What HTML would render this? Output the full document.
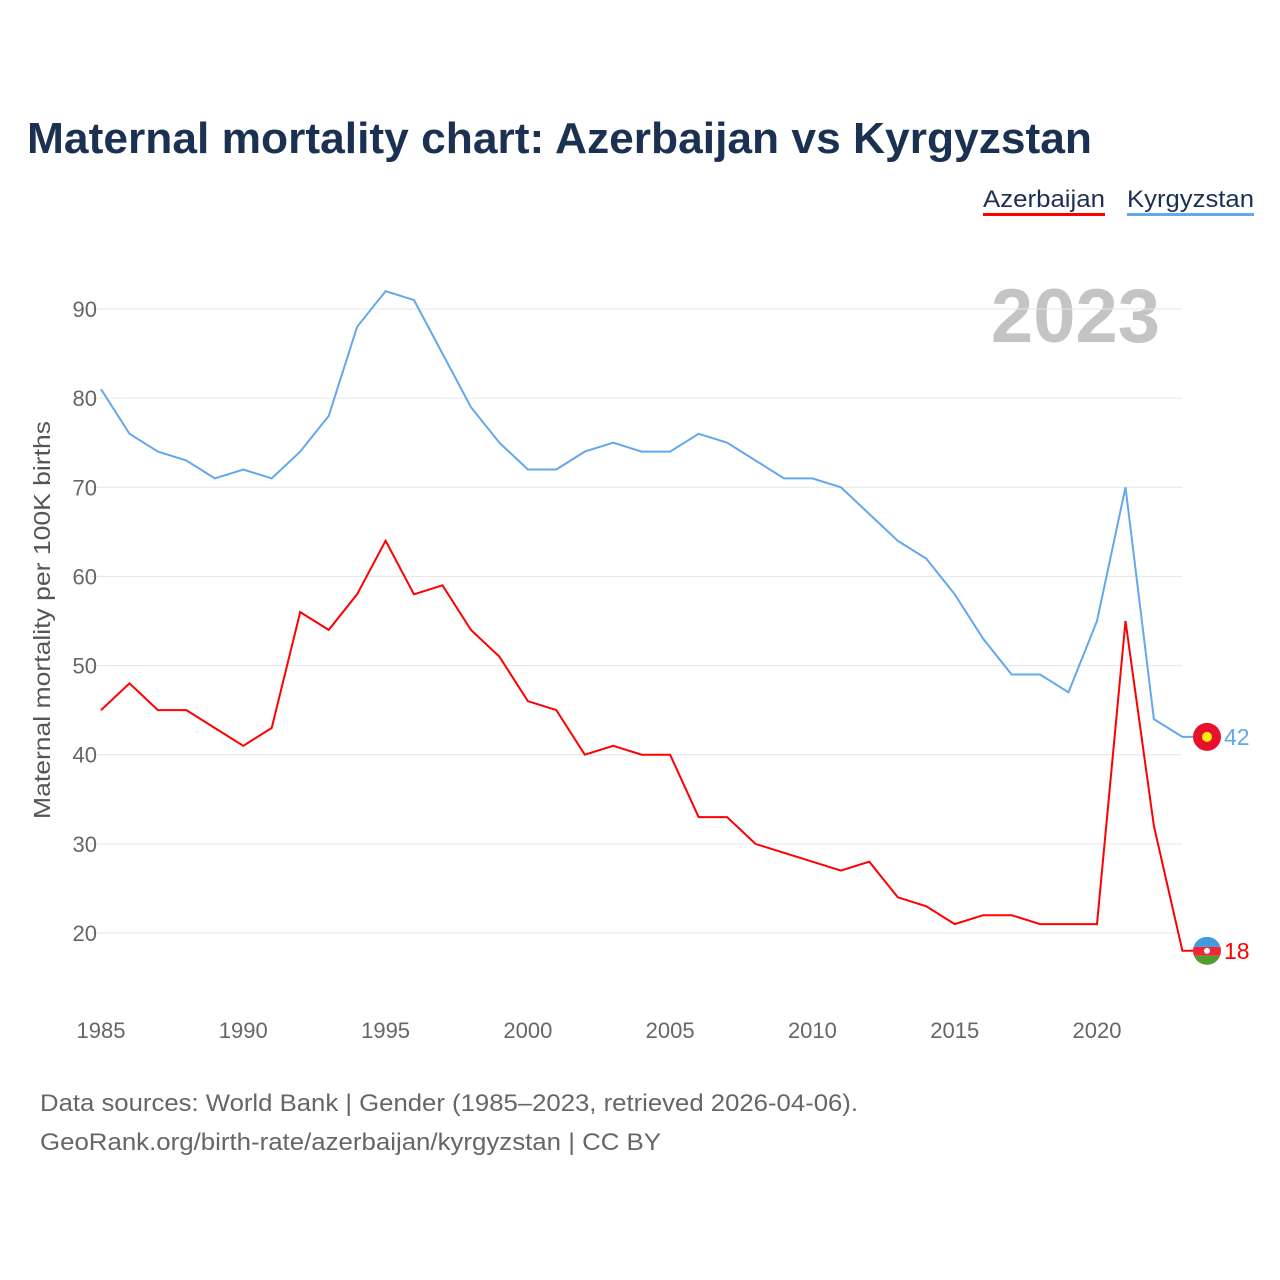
<!DOCTYPE html>
<html><head><meta charset="utf-8"><style>
body{margin:0;background:#fff;font-family:"Liberation Sans",sans-serif;}
#wrap{position:relative;width:1280px;height:1280px;overflow:hidden;}
</style></head><body>
<div id="wrap">
<svg id="chart" width="1280" height="1280">
<text x="27" y="153" font-size="44" font-weight="bold" fill="#1b3152" textLength="1065" lengthAdjust="spacingAndGlyphs">Maternal mortality chart: Azerbaijan vs Kyrgyzstan</text>
<g>
<text x="983" y="207" font-size="24" fill="#1b3152" textLength="122" lengthAdjust="spacingAndGlyphs">Azerbaijan</text>
<rect x="983" y="213" width="122" height="3" fill="#ff0000"/>
<text x="1127" y="207" font-size="24" fill="#1b3152" textLength="127" lengthAdjust="spacingAndGlyphs">Kyrgyzstan</text>
<rect x="1127" y="213" width="127" height="3" fill="#62a8eb"/>
</g>
<text x="1160" y="342" font-size="76" font-weight="bold" fill="#c4c4c4" text-anchor="end">2023</text>
<text transform="translate(50,620) rotate(-90)" font-size="23" fill="#555" text-anchor="middle" textLength="398" lengthAdjust="spacingAndGlyphs">Maternal mortality per 100K births</text>
<g id="grid"></g><g id="lines"></g>
<text x="40" y="1111" font-size="24" fill="#666" textLength="818" lengthAdjust="spacingAndGlyphs">Data sources: World Bank | Gender (1985–2023, retrieved 2026-04-06).</text>
<text x="40" y="1150" font-size="24" fill="#666" textLength="621" lengthAdjust="spacingAndGlyphs">GeoRank.org/birth-rate/azerbaijan/kyrgyzstan | CC BY</text>
</svg></div>
<script>
const years=[1985,1986,1987,1988,1989,1990,1991,1992,1993,1994,1995,1996,1997,1998,1999,2000,2001,2002,2003,2004,2005,2006,2007,2008,2009,2010,2011,2012,2013,2014,2015,2016,2017,2018,2019,2020,2021,2022,2023];
const kyrgyzstan=[81,76,74,73,71,72,71,74,78,88,92,91,85,79,75,72,72,74,75,74,74,76,75,73,71,71,70,67,64,62,58,53,49,49,47,55,70,44,42];
const azerbaijan=[45,48,45,45,43,41,43,56,54,58,64,58,59,54,51,46,45,40,41,40,40,33,33,30,29,28,27,28,24,23,21,22,22,21,21,21,55,32,18];
const yTicks=[20,30,40,50,60,70,80,90];
const xTicks=[1985,1990,1995,2000,2005,2010,2015,2020];
const NS="http://www.w3.org/2000/svg";
const X=y=>101+(y-1985)*(996/35);
const Y=v=>933-(v-20)*(624/70);
const g=document.getElementById('grid'),L=document.getElementById('lines');
function mk(tag,at,p){const e=document.createElementNS(NS,tag);for(const k in at)e.setAttribute(k,at[k]);p.appendChild(e);return e;}
yTicks.forEach(v=>{
 const l=mk('line',{x1:90,x2:1182,y1:Y(v),y2:Y(v),stroke:'#e6e6e6','stroke-width':1},g);
 
 
 const t=mk('text',{x:97,y:Y(v)+8,'font-size':22,fill:'#666','text-anchor':'end'},g);t.textContent=v;
 
 
});
xTicks.forEach(v=>{
 const t=mk('text',{x:X(v),y:1038,'font-size':22,fill:'#666','text-anchor':'middle'},g);t.textContent=v;
 
 
});
function series(vals,color,name){
 let d=vals.map((v,i)=>(i?'L':'M')+X(years[i]).toFixed(1)+','+Y(v).toFixed(1)).join('');
 const last=vals[vals.length-1];
 d+='L1206,'+Y(last).toFixed(1);
 const p=mk('path',{d:d,fill:'none',stroke:color,'stroke-width':2},L);
 
 
 const t=mk('text',{x:1224,y:Y(last)+8,'font-size':23,fill:color},L);t.textContent=last;
 
 
 return Y(last);
}
const yk=series(kyrgyzstan,'#62a8eb','kyrgyzstan');
const ya=series(azerbaijan,'#ff0000','azerbaijan');
const fk=mk('circle',{cx:1207,cy:yk,r:14,fill:'#e8112d'},L);


mk('circle',{cx:1207,cy:yk,r:5,fill:'#ffef00'},L);
const fa=mk('g',{},L);


mk('clipPath',{id:'cpA'},fa);
mk('circle',{cx:1207,cy:ya,r:14},fa.lastChild);
const fg=mk('g',{'clip-path':'url(#cpA)'},fa);
mk('rect',{x:1193,y:ya-14,width:28,height:10,fill:'#3f9be0'},fg);
mk('rect',{x:1193,y:ya-4,width:28,height:9,fill:'#ed2939'},fg);
mk('rect',{x:1193,y:ya+5,width:28,height:10,fill:'#509e2f'},fg);
mk('circle',{cx:1207,cy:ya,r:3,fill:'#fff'},fg);
</script>
</body></html>
